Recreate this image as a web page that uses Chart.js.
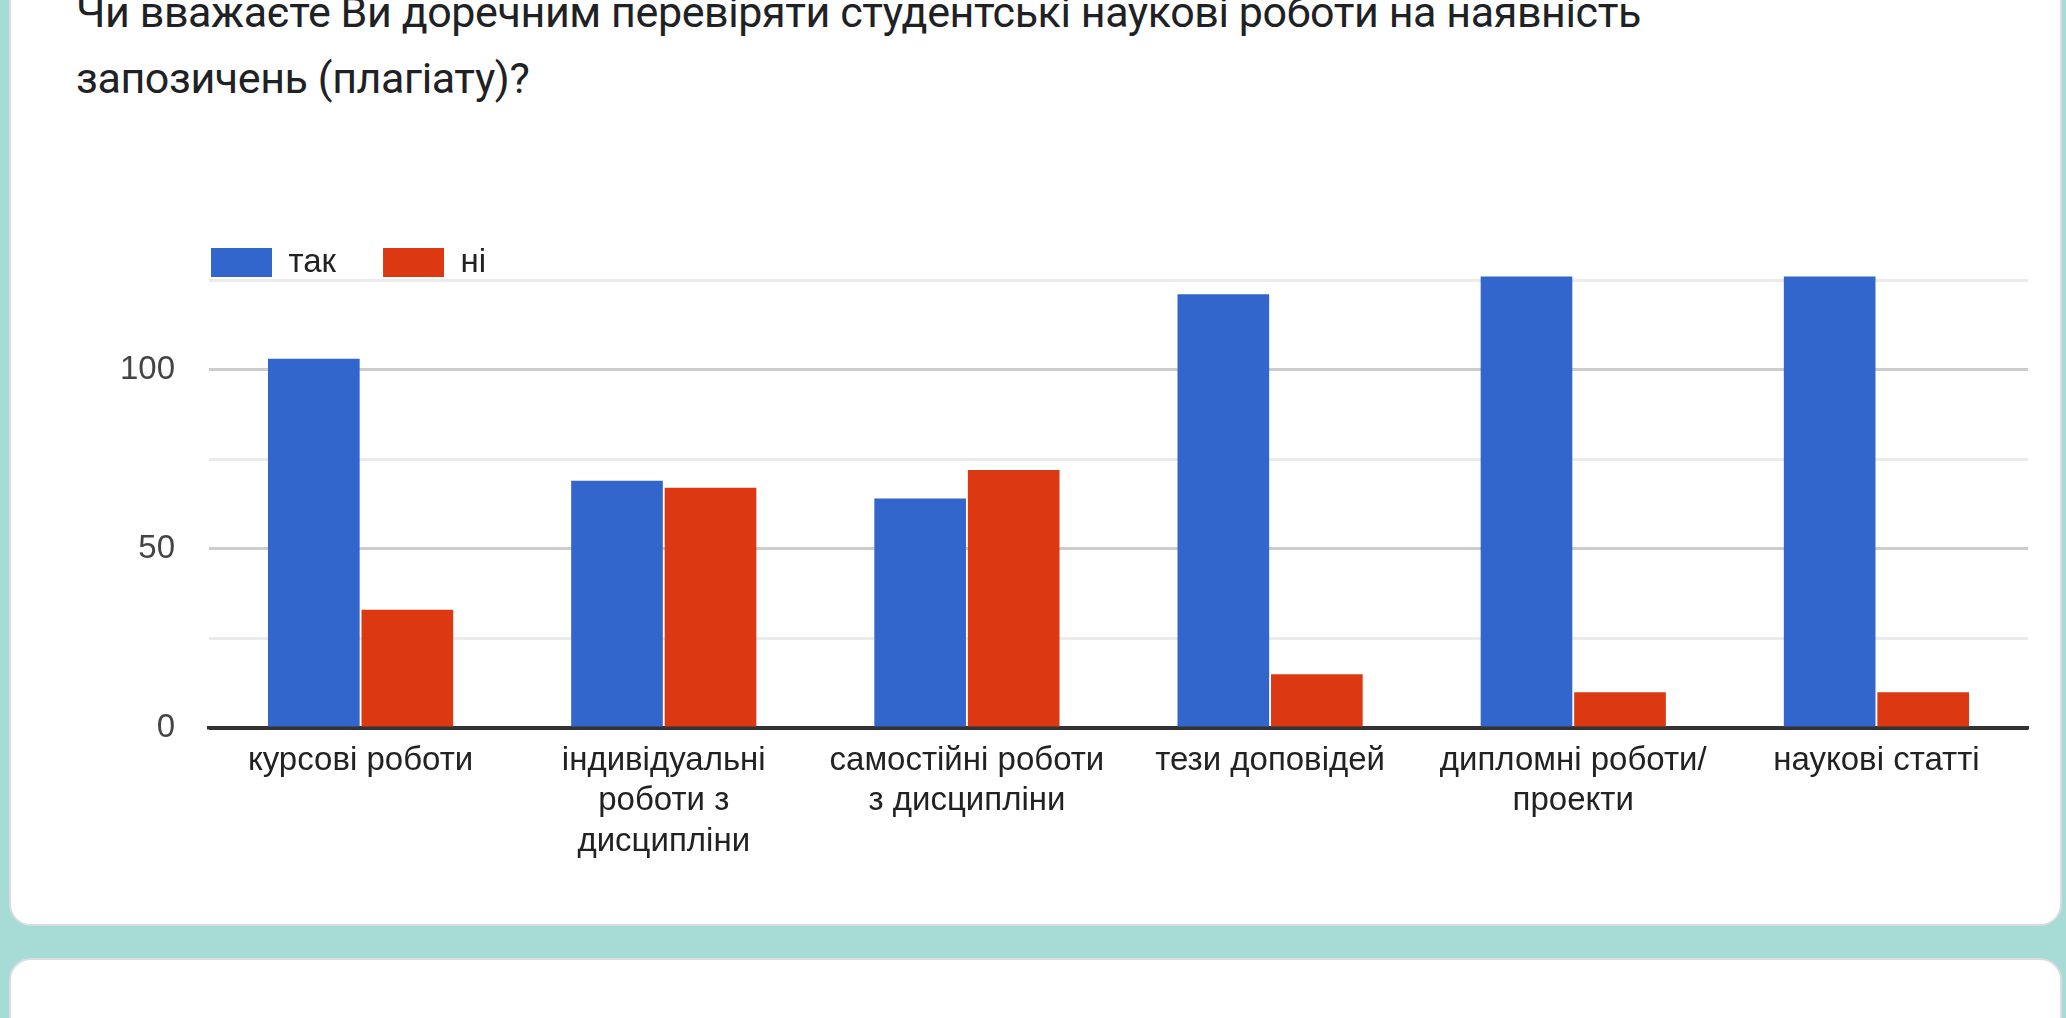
<!DOCTYPE html>
<html lang="uk">
<head>
  <meta charset="UTF-8">
  <title>Перевірка на плагіат</title>
  <script src="https://cdn.jsdelivr.net/npm/chart.js@4.4.1/dist/chart.umd.min.js"></script>
  <style>
    html, body { margin: 0; padding: 0; }
    body { width: 2066px; height: 1018px; background: #a7dbd6; position: relative; overflow: hidden; }
    .card { position: absolute; left: 9px; width: 2053px; background: #fff; border: 2px solid #dadce0; border-radius: 22px; box-sizing: border-box; }
    #title { position: absolute; left: 76px; top: -21px; font-family: Roboto, "Open Sans", sans-serif; font-size: 43px; letter-spacing: -0.4px; line-height: 66px; color: #202124; white-space: nowrap; }
    #wrap { position: absolute; left: 0; top: 160px; width: 2066px; height: 740px; }
  </style>
</head>
<body>
  <div class="card" style="top:-100px; height:1026px;"></div>
  <div class="card" style="top:958px; height:200px;"></div>
  <div id="title">Чи вважаєте Ви доречним перевіряти студентські наукові роботи на наявність<br>запозичень (плагіату)?</div>
  <div id="wrap"><canvas id="chart"></canvas></div>

  <script>
    const categories = [
      'курсові роботи',
      ['індивідуальні', 'роботи з', 'дисципліни'],
      ['самостійні роботи', 'з дисципліни'],
      'тези доповідей',
      ['дипломні роботи/', 'проекти'],
      'наукові статті'
    ];
    const yesValues = [103, 69, 64, 121, 126, 126];
    const noValues = [33, 67, 72, 15, 10, 10];
    const seriesNames = ['так', 'ні'];

    const font = 'Liberation Sans, Arial, sans-serif';

    // line the legend up with the left edge of the plot, like Google Charts does
    const legendToPlot = {
      id: 'legendToPlot',
      afterLayout(chart) {
        const lg = chart.legend;
        const shift = chart.chartArea.left + 2 - lg.options.labels.padding - lg.left;
        lg.left += shift;
        lg.right += shift;
      }
    };

    new Chart(document.getElementById('chart'), {
      type: 'bar',
      data: {
        labels: categories,
        datasets: [
          { label: seriesNames[0], data: yesValues, backgroundColor: '#3366cc', clip: false },
          { label: seriesNames[1], data: noValues, backgroundColor: '#dc3912', clip: false }
        ]
      },
      plugins: [legendToPlot],
      options: {
        responsive: true,
        maintainAspectRatio: false,
        animation: false,
        categoryPercentage: 0.617,
        barPercentage: 0.98,
        layout: { padding: { left: 110, right: 38, top: 39, bottom: 0 } },
        plugins: {
          tooltip: { enabled: false },
          legend: {
            position: 'top',
            align: 'start',
            maxHeight: 81,
            labels: {
              boxWidth: 61,
              boxHeight: 29,
              padding: 47,
              color: '#222',
              font: { family: font, size: 33 }
            }
          }
        },
        scales: {
          x: {
            z: 1,
            grid: { display: false },
            border: { display: true, color: '#333', width: 3.5 },
            ticks: {
              color: '#222',
              padding: 4,
              maxRotation: 0,
              autoSkip: false,
              font: { family: font, size: 33, lineHeight: 1.24 }
            },
            afterFit: s => { s.height = 172; }
          },
          y: {
            min: 0,
            max: 125,
            border: { display: false },
            grid: {
              drawTicks: false,
              lineWidth: 3,
              color: c => c.tick.value === 0 ? '#333' : (c.tick.value % 50 === 0 ? '#cccccc' : '#ebebeb')
            },
            ticks: {
              stepSize: 25,
              padding: 34,
              color: '#444',
              font: { family: font, size: 33 },
              callback: v => v % 50 === 0 ? v : ''
            },
            afterFit: s => { s.width = 99; }
          }
        }
      }
    });
  </script>
</body>
</html>
